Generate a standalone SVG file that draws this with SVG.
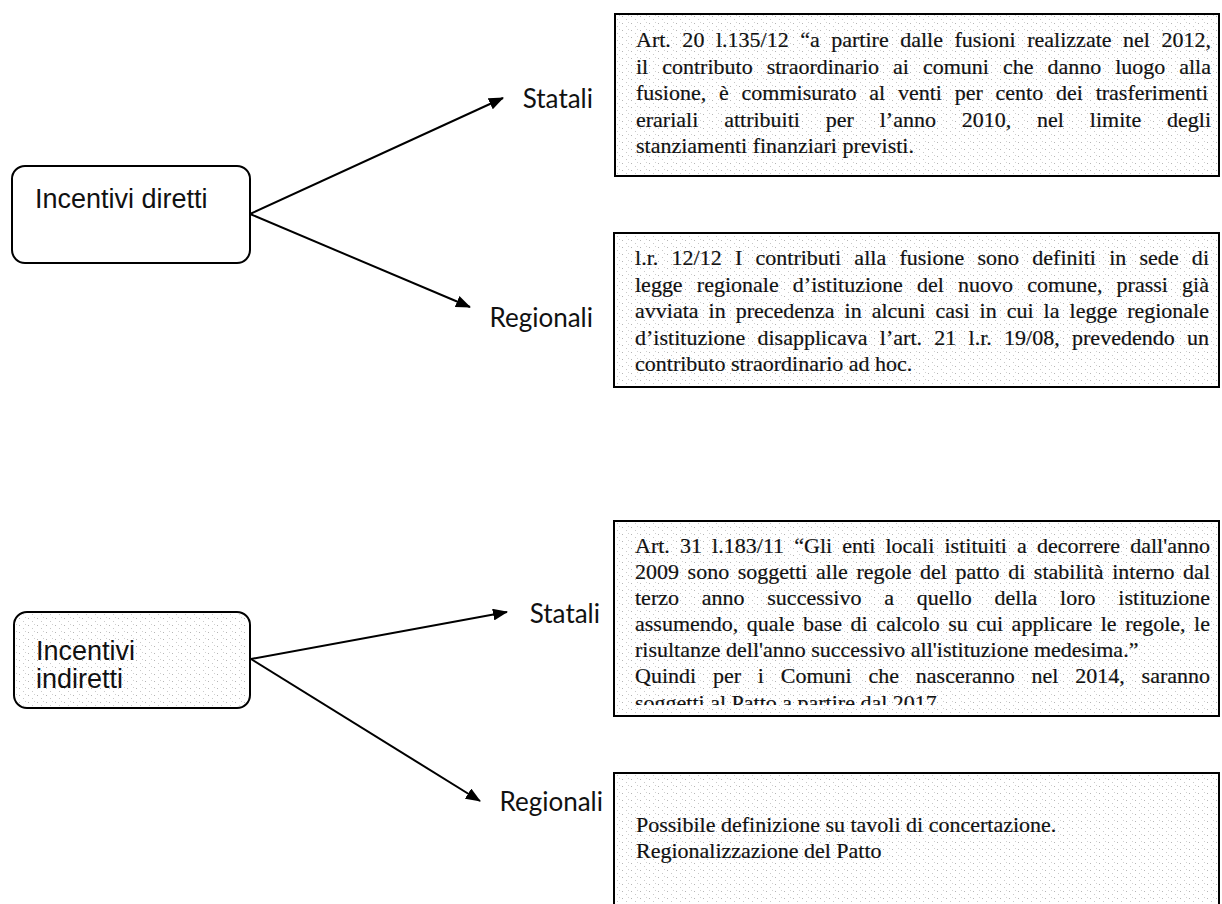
<svg xmlns="http://www.w3.org/2000/svg" width="1222" height="904" viewBox="0 0 1222 904">
<defs>
<pattern id="dots" width="9" height="7" patternUnits="userSpaceOnUse">
<rect x="1" y="2" width="1" height="1" fill="#b5b5b5"/>
<rect x="5" y="5" width="1" height="1" fill="#c8c8c8"/>
<rect x="7" y="1" width="1" height="1" fill="#d0d0d0"/>
</pattern>
<marker id="ah" viewBox="0 0 15 12" refX="14" refY="6" markerWidth="15" markerHeight="12" markerUnits="userSpaceOnUse" orient="auto">
<path d="M0,0 L15,6 L0,12 Z" fill="#000"/>
</marker>
<clipPath id="clipC"><rect x="614" y="521" width="605" height="184"/></clipPath>
</defs>
<style>
.rbox{fill:#fff;stroke:#000;stroke-width:2}
.tbox{fill:url(#dots);stroke:#000;stroke-width:2}
.lbl{font-family:"Liberation Sans",Arial,sans-serif;font-size:27px;fill:#111}
.br{font-family:Lato,"Open Sans",sans-serif;font-size:26px;fill:#111}
.tx{font-family:"Liberation Serif","Times New Roman",serif;font-size:22px;fill:#111;stroke:#111;stroke-width:0.2}
.conn line{stroke:#000;stroke-width:2;marker-end:url(#ah)}
</style>
<rect width="1222" height="904" fill="#fff"/>

<g id="incentivi-diretti">
<rect class="rbox" x="12" y="166" width="238" height="97" rx="13"/>
<text class="lbl" x="35" y="208" font-size="28">Incentivi diretti</text>
</g>

<g id="incentivi-indiretti">
<rect class="rbox" x="14" y="612" width="236" height="96" rx="13"/>
<rect x="16" y="614" width="232" height="92" rx="11" fill="url(#dots)"/>
<text class="lbl" x="36" y="660" font-size="26">Incentivi</text>
<text class="lbl" x="36" y="688" font-size="26">indiretti</text>
</g>

<g id="labels">
<text class="br" x="593" y="108" text-anchor="end">Statali</text>
<text class="br" x="593" y="327" text-anchor="end">Regionali</text>
<text class="br" x="600" y="623" text-anchor="end">Statali</text>
<text class="br" x="603" y="811" text-anchor="end">Regionali</text>
</g>

<g id="box-statali-diretti">
<rect class="tbox" x="615" y="14" width="604" height="162"/>
<text class="tx" x="636" y="47" word-spacing="6" textLength="575" lengthAdjust="spacing">Art. 20 l.135/12 “a partire dalle fusioni realizzate nel 2012,</text>
<text class="tx" x="636" y="73.5" word-spacing="8.5" textLength="575" lengthAdjust="spacing">il contributo straordinario ai comuni che danno luogo alla</text>
<text class="tx" x="636" y="100" word-spacing="7.3" textLength="572" lengthAdjust="spacing">fusione, è commisurato al venti per cento dei trasferimenti</text>
<text class="tx" x="636" y="126.5" word-spacing="20.3" textLength="575" lengthAdjust="spacing">erariali attribuiti per l’anno 2010, nel limite degli</text>
<text class="tx" x="636" y="153">stanziamenti finanziari previsti.</text>
</g>

<g id="box-regionali-diretti">
<rect class="tbox" x="614" y="233" width="605" height="154"/>
<text class="tx" x="635" y="265" word-spacing="7.7" textLength="574" lengthAdjust="spacing">l.r. 12/12 I contributi alla fusione sono definiti in sede di</text>
<text class="tx" x="635" y="291.5" word-spacing="8.7" textLength="574" lengthAdjust="spacing">legge regionale d’istituzione del nuovo comune, prassi già</text>
<text class="tx" x="635" y="318" word-spacing="4.5" textLength="574" lengthAdjust="spacing">avviata in precedenza in alcuni casi in cui la legge regionale</text>
<text class="tx" x="635" y="344.5" word-spacing="6.7" textLength="574" lengthAdjust="spacing">d’istituzione disapplicava l’art. 21 l.r. 19/08, prevedendo un</text>
<text class="tx" x="635" y="371">contributo straordinario ad hoc.</text>
</g>

<g id="box-statali-indiretti">
<rect class="tbox" x="614" y="521" width="605" height="195"/>
<g clip-path="url(#clipC)">
<text class="tx" x="635" y="553" word-spacing="4.6" textLength="575" lengthAdjust="spacing">Art. 31 l.183/11 “Gli enti locali istituiti a decorrere dall'anno</text>
<text class="tx" x="635" y="579" word-spacing="3.1" textLength="575" lengthAdjust="spacing">2009 sono soggetti alle regole del patto di stabilità interno dal</text>
<text class="tx" x="635" y="605" word-spacing="17.3" textLength="575" lengthAdjust="spacing">terzo anno successivo a quello della loro istituzione</text>
<text class="tx" x="635" y="631" word-spacing="3" textLength="575" lengthAdjust="spacing">assumendo, quale base di calcolo su cui applicare le regole, le</text>
<text class="tx" x="635" y="657">risultanze dell'anno successivo all'istituzione medesima.”</text>
<text class="tx" x="635" y="683" word-spacing="11.3" textLength="575" lengthAdjust="spacing">Quindi per i Comuni che nasceranno nel 2014, saranno</text>
<text class="tx" x="635" y="709.5">soggetti al Patto a partire dal 2017</text>
</g>
</g>

<g id="box-regionali-indiretti">
<rect class="tbox" x="614" y="773" width="605" height="150"/>
<text class="tx" x="636" y="832">Possibile definizione su tavoli di concertazione.</text>
<text class="tx" x="636" y="858">Regionalizzazione del Patto</text>
</g>

<g id="connectors" class="conn">
<line x1="250" y1="214" x2="503" y2="98"/>
<line x1="250" y1="214" x2="470" y2="307"/>
<line x1="251" y1="659" x2="507" y2="612"/>
<line x1="251" y1="659" x2="480" y2="801"/>
</g>
</svg>
